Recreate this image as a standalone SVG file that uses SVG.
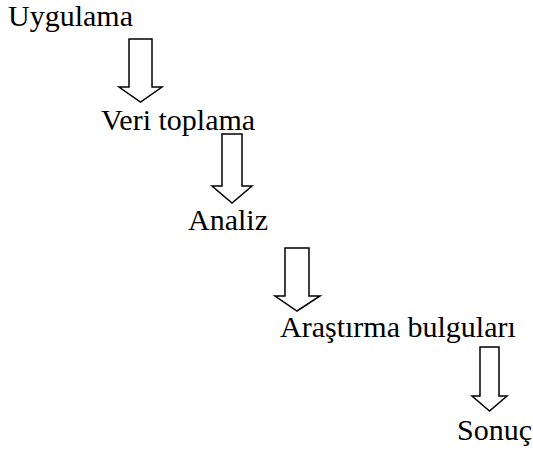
<svg xmlns="http://www.w3.org/2000/svg" width="533" height="453" viewBox="0 0 533 453">
  <style>
    .label { font-family: "Liberation Serif", "Times New Roman", serif; font-size: 30px; fill: #000; }
    .arrow { fill: #fff; stroke: #000; stroke-width: 1.5; stroke-linejoin: miter; }
  </style>
  <rect width="533" height="453" fill="#fff"/>

  <!-- steps -->
  <g id="uygulama"><text class="label" x="8" y="26">Uygulama</text></g>
  <g id="veri-toplama"><text class="label" x="101" y="130">Veri toplama</text></g>
  <g id="analiz"><text class="label" x="188" y="230">Analiz</text></g>
  <g id="arastirma-bulgulari"><text class="label" x="280" y="337">Araştırma bulguları</text></g>
  <g id="sonuc"><text class="label" x="457" y="440">Sonuç</text></g>

  <!-- block arrows between steps -->
  <g id="connectors">
    <polygon class="arrow" points="129,39 152,39 152,87 162,87 140.5,102 119,87 129,87"/>
    <polygon class="arrow" points="222,134 242,134 242,186 252,186 232,203 212,186 222,186"/>
    <polygon class="arrow" points="285,248 309,248 309,296 320,296 297,311 275,296 285,296"/>
    <polygon class="arrow" points="480,347 499,347 499,396 507,396 489.5,411 472,396 480,396"/>
  </g>
</svg>
